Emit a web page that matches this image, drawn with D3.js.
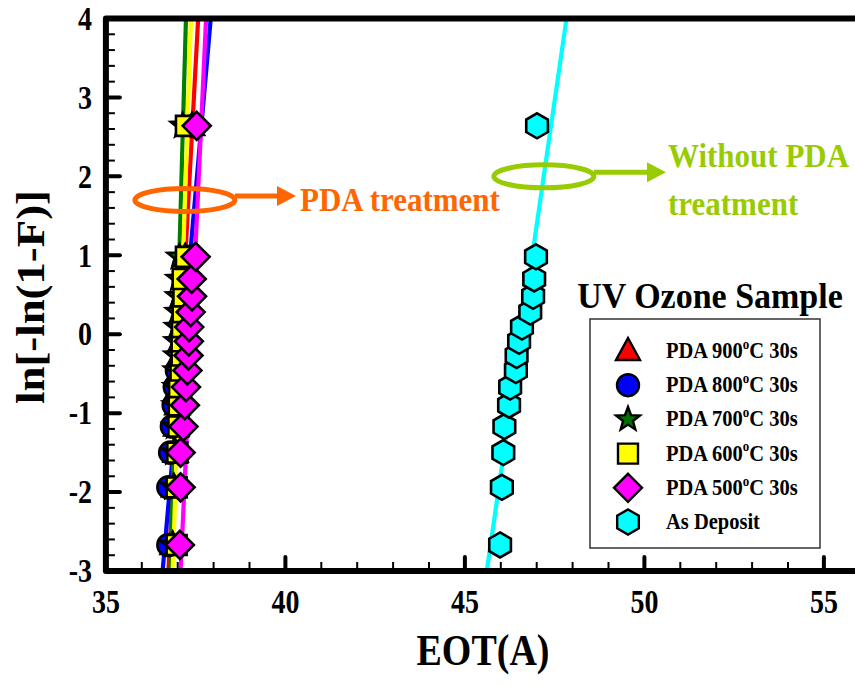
<!DOCTYPE html>
<html>
<head>
<meta charset="utf-8">
<script src="https://cdn.jsdelivr.net/npm/d3@7"></script>
<style>
  body { margin: 0; background: #fff; }
  text { font-family: 'Liberation Serif', 'Times New Roman', serif; font-weight: bold; }
</style>
</head>
<body>
<div class="chart"></div>
<script>
const width = 855
const height = 687

// Weibull plotting positions, shared by every sample
const weibullY = [-2.67, -1.94, -1.50, -1.17, -0.90, -0.67, -0.46, -0.27, -0.09, 0.09, 0.28, 0.48, 0.70, 0.98, 2.64]

// EOT (A), one value per plotting position
const eot900 = [36.86, 36.90, 36.94, 36.96, 36.99, 37.02, 37.04, 37.06, 37.09, 37.11, 37.13, 37.15, 37.18, 37.21, 37.40]
const eot800 = [36.74, 36.74, 36.79, 36.84, 36.89, 36.92, 36.98, 37.12, 37.16, 37.20, 37.24, 37.28, 37.32, 37.36, 37.45]
const eot700 = [36.86, 36.88, 36.90, 36.92, 36.93, 36.95, 36.96, 36.97, 36.98, 36.99, 37.01, 37.02, 37.03, 37.05, 37.14]
const eot600 = [36.97, 36.97, 36.99, 37.02, 37.03, 37.04, 37.08, 37.11, 37.11, 37.12, 37.14, 37.16, 37.14, 37.23, 37.23]
const eot500 = [37.06, 37.08, 37.08, 37.16, 37.20, 37.23, 37.27, 37.30, 37.31, 37.32, 37.36, 37.40, 37.39, 37.50, 37.53]
const eotAsDep = [45.98, 46.03, 46.07, 46.10, 46.23, 46.26, 46.42, 46.44, 46.51, 46.59, 46.82, 46.90, 46.93, 46.98, 47.01]

// fitted lines: EOT at y = -3 and at y = 4
const fitY = [-3, 4]
const fit900 = [36.74, 37.57]
const fit800 = [36.58, 37.92]
const fit700 = [36.80, 37.23]
const fit600 = [36.86, 37.37]
const fit500 = [37.08, 37.79]
const fitAsDep = [45.61, 47.83]

const seriesNames = ['PDA 900', 'PDA 800', 'PDA 700', 'PDA 600', 'PDA 500', 'As Deposit']
const xTicks = [35, 40, 45, 50, 55]
const yTicks = [-3, -2, -1, 0, 1, 2, 3, 4]

const theme = {
  red: '#ff0000',
  blue: '#0000ff',
  green: '#007000',
  greenLine: '#008000',
  yellow: '#ffff00',
  magenta: '#ff00ff',
  cyan: '#00ffff',
  orange: '#ff6600',
  lime: '#99cc00'
}

const series = [
  { name: seriesNames[0], x: eot900, fit: fit900, fill: theme.red, line: theme.red, shape: 'triangle' },
  { name: seriesNames[1], x: eot800, fit: fit800, fill: theme.blue, line: theme.blue, shape: 'circle' },
  { name: seriesNames[2], x: eot700, fit: fit700, fill: theme.green, line: theme.greenLine, shape: 'star' },
  { name: seriesNames[3], x: eot600, fit: fit600, fill: theme.yellow, line: theme.yellow, shape: 'square' },
  { name: seriesNames[4], x: eot500, fit: fit500, fill: theme.magenta, line: theme.magenta, shape: 'diamond' },
  { name: seriesNames[5], x: eotAsDep, fit: fitAsDep, fill: theme.cyan, line: theme.cyan, shape: 'hexagon' }
]

const x = d3.scaleLinear().domain([35, 56]).range([105.9, 859.8])
const y = d3.scaleLinear().domain([-3, 4]).range([571, 18.5])

function shapePath(shape) {
  const p = d3.path()
  if (shape === 'circle') {
    p.arc(0, 0, 11, 0, 2 * Math.PI)
  } else if (shape === 'square') {
    p.rect(-10, -10, 20, 20)
  } else if (shape === 'diamond') {
    p.moveTo(0, -14); p.lineTo(14, 0); p.lineTo(0, 14); p.lineTo(-14, 0); p.closePath()
  } else if (shape === 'triangle') {
    p.moveTo(0, -13); p.lineTo(12, 9); p.lineTo(-12, 9); p.closePath()
  } else if (shape === 'hexagon') {
    for (let i = 0; i < 6; i++) {
      const a = -Math.PI / 2 + i * Math.PI / 3
      if (i === 0) p.moveTo(12.5 * Math.cos(a), 12.5 * Math.sin(a))
      else p.lineTo(12.5 * Math.cos(a), 12.5 * Math.sin(a))
    }
    p.closePath()
  } else if (shape === 'star') {
    for (let i = 0; i < 10; i++) {
      const r = i % 2 === 0 ? 12.5 : 5.2
      const a = -Math.PI / 2 + i * Math.PI / 5
      if (i === 0) p.moveTo(r * Math.cos(a), r * Math.sin(a))
      else p.lineTo(r * Math.cos(a), r * Math.sin(a))
    }
    p.closePath()
  }
  return p.toString()
}

const svg = d3.select('.chart')
  .append('svg')
  .attr('width', width)
  .attr('height', height)

svg.append('rect').attr('width', width).attr('height', height).attr('fill', '#fff')

// fitted lines
const lineGen = d3.line().x(d => x(d[0])).y(d => y(d[1]))
svg.append('g').attr('class', 'fits')
  .selectAll('path')
  .data(series)
  .join('path')
  .attr('d', s => lineGen(s.fit.map((v, i) => [v, fitY[i]])))
  .attr('fill', 'none')
  .attr('stroke', s => s.line)
  .attr('stroke-width', 4.2)
  .attr('stroke-linecap', 'round')

// markers
const markers = svg.append('g').attr('class', 'markers')
series.forEach(s => {
  markers.append('g')
    .selectAll('path')
    .data(s.x.map((v, i) => ({ x: v, y: weibullY[i] })))
    .join('path')
    .attr('transform', d => `translate(${x(d.x)},${y(d.y)})`)
    .attr('d', shapePath(s.shape))
    .attr('fill', s.fill)
    .attr('stroke', '#000')
    .attr('stroke-width', 2.6)
    .attr('stroke-linejoin', 'miter')
})

// frame and ticks
const frame = svg.append('g').attr('class', 'frame')
const x0 = x(35), x1 = x(56), y0 = y(-3), y1 = y(4)
frame.append('path')
  .attr('d', `M${x1},${y1}H${x0}V${y0}H${x1}`)
  .attr('fill', 'none')
  .attr('stroke', '#000')
  .attr('stroke-width', 6)
  .attr('stroke-linejoin', 'round')

const yMinor = d3.range(-3, 4.01, 0.2).filter(v => Math.abs(v - Math.round(v)) > 0.01)
frame.selectAll('.ymin').data(yMinor).join('line')
  .attr('x1', x0).attr('x2', x0 + 9)
  .attr('y1', d => y(d)).attr('y2', d => y(d))
  .attr('stroke', '#000').attr('stroke-width', 2)
frame.selectAll('.ymaj').data(yTicks).join('line')
  .attr('x1', x0).attr('x2', x0 + 14)
  .attr('y1', d => y(d)).attr('y2', d => y(d))
  .attr('stroke', '#000').attr('stroke-width', 4).attr('stroke-linecap', 'round')

const xMinor = d3.range(36, 56, 1).filter(v => v % 5 !== 0)
frame.selectAll('.xmin').data(xMinor).join('line')
  .attr('x1', d => x(d)).attr('x2', d => x(d))
  .attr('y1', y0).attr('y2', y0 - 9)
  .attr('stroke', '#000').attr('stroke-width', 2)
frame.selectAll('.xmaj').data(xTicks.slice(1)).join('line')
  .attr('x1', d => x(d)).attr('x2', d => x(d))
  .attr('y1', y0).attr('y2', y0 - 14)
  .attr('stroke', '#000').attr('stroke-width', 4).attr('stroke-linecap', 'round')

// tick labels
svg.append('g').selectAll('text').data(yTicks).join('text')
  .attr('transform', d => `translate(92,${y(d)}) scale(1,1.18)`)
  .attr('dy', '0.34em')
  .attr('text-anchor', 'end')
  .attr('font-size', 28)
  .text(d => d)

svg.append('g').selectAll('text').data(xTicks).join('text')
  .attr('transform', d => `translate(${x(d)},613) scale(1,1.18)`)
  .attr('text-anchor', 'middle')
  .attr('font-size', 28)
  .text(d => d)

// axis titles
svg.append('text')
  .attr('transform', 'translate(483,665) scale(1,1.18)')
  .attr('text-anchor', 'middle')
  .attr('font-size', 38)
  .text('EOT(A)')

svg.append('text')
  .attr('transform', 'translate(44,297) rotate(-90) scale(1.12,1)')
  .attr('text-anchor', 'middle')
  .attr('font-size', 40)
  .text('ln[-ln(1-F)]')

// annotations
function callout(cx, cy, color, tipX) {
  const g = svg.append('g')
  const px = x(cx), py = y(cy)
  g.append('ellipse')
    .attr('cx', px).attr('cy', py).attr('rx', 50).attr('ry', 11.5)
    .attr('fill', 'none').attr('stroke', color).attr('stroke-width', 5)
  g.append('line')
    .attr('x1', px + 50).attr('x2', tipX - 15)
    .attr('y1', py - 4).attr('y2', py - 4)
    .attr('stroke', color).attr('stroke-width', 5)
  g.append('path')
    .attr('d', `M${tipX - 19},${py - 14}L${tipX},${py - 4}L${tipX - 19},${py + 6}Z`)
    .attr('fill', color)
}
callout(37.2, 1.7, theme.orange, 296)
svg.append('text').attr('transform', 'translate(300,211) scale(1,1.08)')
  .attr('font-size', 31).attr('fill', theme.orange).text('PDA treatment')

callout(47.2, 2.0, theme.lime, 666)
svg.append('text').attr('transform', 'translate(668,167) scale(1,1.08)')
  .attr('font-size', 31).attr('fill', theme.lime).text('Without PDA')
svg.append('text').attr('transform', 'translate(668,215) scale(1,1.08)')
  .attr('font-size', 31).attr('fill', theme.lime).text('treatment')

// legend
svg.append('text').attr('transform', 'translate(710,308) scale(1,1.08)')
  .attr('text-anchor', 'middle').attr('font-size', 34)
  .text('UV Ozone Sample')

const legend = svg.append('g').attr('class', 'legend')
legend.append('rect')
  .attr('x', 590).attr('y', 319).attr('width', 230).attr('height', 229)
  .attr('fill', '#fff').attr('stroke', '#333').attr('stroke-width', 1.5)

const rowY = d3.scalePoint().domain(seriesNames).range([351, 522])
const rows = legend.selectAll('.row').data(series).join('g')
  .attr('transform', s => `translate(0,${rowY(s.name)})`)
rows.append('path')
  .attr('transform', 'translate(628,0)')
  .attr('d', s => shapePath(s.shape))
  .attr('fill', s => s.fill)
  .attr('stroke', '#000')
  .attr('stroke-width', 2.4)
const labels = rows.append('text')
  .attr('transform', 'translate(666,7) scale(1,1.15)')
  .attr('font-size', 20.5)
labels.each(function(s) {
  const t = d3.select(this)
  if (s.name.startsWith('PDA')) {
    t.append('tspan').text(s.name)
    t.append('tspan').attr('font-size', 13).attr('dy', -8).text('o')
    t.append('tspan').attr('dy', 8).text('C 30s')
  } else {
    t.text(s.name)
  }
})
</script>
</body>
</html>
